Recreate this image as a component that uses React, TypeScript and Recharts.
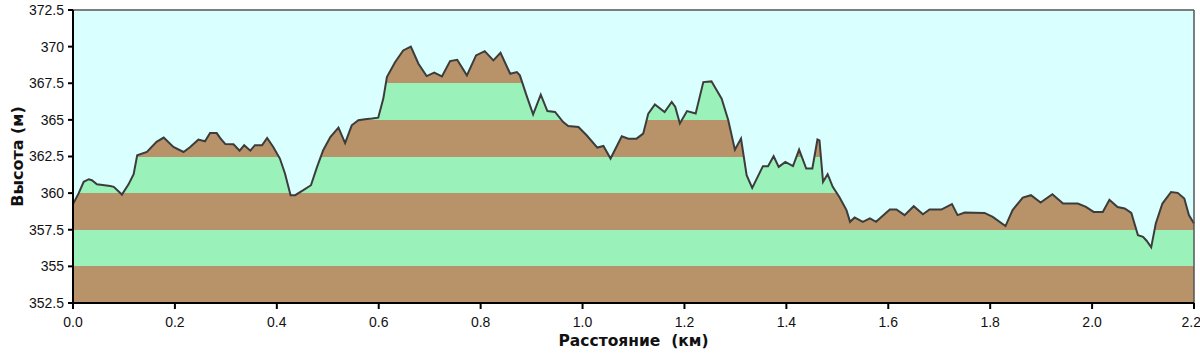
import { Area, AreaChart, CartesianGrid, ReferenceLine, XAxis, YAxis } from 'recharts'

// расстояние, км
const distances = [
    0.0, 0.011, 0.021, 0.031, 0.037, 0.047, 0.073, 0.08, 0.096, 0.109, 0.119, 0.126, 0.145, 0.164, 0.178,
    0.197, 0.217, 0.23, 0.246, 0.259, 0.269, 0.282, 0.289, 0.299, 0.315, 0.327, 0.336, 0.348, 0.357, 0.371,
    0.381, 0.393, 0.406, 0.416, 0.427, 0.436, 0.452, 0.467, 0.479, 0.491, 0.505, 0.521, 0.534, 0.547, 0.56,
    0.573, 0.587, 0.599, 0.609, 0.616, 0.632, 0.648, 0.663, 0.678, 0.694, 0.709, 0.724, 0.74, 0.754, 0.773,
    0.791, 0.808, 0.825, 0.839, 0.858, 0.871, 0.877, 0.89, 0.903, 0.918, 0.931, 0.946, 0.962, 0.972, 0.992,
    1.008, 1.029, 1.041, 1.055, 1.077, 1.09, 1.106, 1.119, 1.129, 1.142, 1.161, 1.175, 1.182, 1.191, 1.205,
    1.222, 1.237, 1.253, 1.273, 1.286, 1.299, 1.311, 1.322, 1.333, 1.354, 1.364, 1.375, 1.385, 1.398, 1.413,
    1.425, 1.439, 1.451, 1.461, 1.465, 1.472, 1.481, 1.491, 1.504, 1.518, 1.525, 1.534, 1.55, 1.564, 1.576,
    1.603, 1.616, 1.632, 1.65, 1.668, 1.681, 1.704, 1.725, 1.736, 1.75, 1.789, 1.805, 1.83, 1.844, 1.864,
    1.88, 1.899, 1.922, 1.943, 1.972, 1.988, 2.003, 2.021, 2.034, 2.05, 2.064, 2.077, 2.09, 2.1, 2.107,
    2.116, 2.125, 2.138, 2.155, 2.168, 2.181, 2.19, 2.2,
]

// высота, м
const elevations = [
    359.25, 359.98, 360.77, 360.95, 360.88, 360.6, 360.48, 360.43, 359.9, 360.6, 361.3, 362.58, 362.81, 363.5, 363.79,
    363.15, 362.81, 363.15, 363.65, 363.54, 364.1, 364.1, 363.75, 363.35, 363.33, 362.9, 363.27, 362.9, 363.27, 363.27,
    363.76, 363.15, 362.36, 361.34, 359.86, 359.86, 360.2, 360.54, 361.79, 362.93, 363.83, 364.47, 363.42, 364.63, 364.97,
    365.04, 365.09, 365.15, 366.45, 367.92, 368.94, 369.74, 370.0, 368.83, 367.99, 368.22, 367.97, 369.01, 369.1, 368.04,
    369.4, 369.69, 369.06, 369.58, 368.15, 368.26, 368.04, 366.67, 365.38, 366.72, 365.6, 365.54, 364.85, 364.58, 364.51,
    363.95, 363.11, 363.22, 362.36, 363.88, 363.72, 363.72, 364.06, 365.43, 366.06, 365.54, 366.22, 365.88, 364.75, 365.6,
    365.43, 367.58, 367.63, 366.45, 364.97, 362.97, 363.72, 361.22, 360.36, 361.84, 361.84, 362.52, 361.79, 362.13, 361.84,
    362.97, 361.68, 361.68, 363.66, 363.6, 360.77, 361.29, 360.43, 359.74, 358.84, 358.04, 358.34, 358.04, 358.27, 358.04,
    358.88, 358.88, 358.5, 359.11, 358.56, 358.88, 358.88, 359.25, 358.5, 358.68, 358.65, 358.38, 357.75, 358.84, 359.7,
    359.86, 359.36, 359.93, 359.29, 359.29, 359.06, 358.72, 358.72, 359.55, 359.05, 358.95, 358.65, 357.13, 357.02, 356.75,
    356.3, 357.93, 359.29, 360.08, 360.02, 359.63, 358.5, 357.93,
]

const xTicks = [0, 0.2, 0.4, 0.6, 0.8, 1.0, 1.2, 1.4, 1.6, 1.8, 2.0, 2.2]
const yTicks = [352.5, 355, 357.5, 360, 362.5, 365, 367.5, 370, 372.5]

const Y_MIN = 352.5
const Y_MAX = 372.5
const BROWN = '#b89268'
const GREEN = '#9af2ba'
const SKY = '#d9ffff'
const FONT = '"Liberation Sans", Arial, sans-serif'
const TITLE_FONT = '"DejaVu Sans", Verdana, sans-serif'

const W = 1200
const H = 356
const MARGIN = { top: 10, right: 6, left: 0, bottom: 13 }
const Y_AXIS_W = 73
const X_AXIS_H = 40
const PLOT_TOP = MARGIN.top
const PLOT_BOTTOM = H - MARGIN.bottom - X_AXIS_H

const data = distances.map((d, i) => ({ km: d, h: elevations[i] }))

// полосы по 2.5 м: снизу коричневая, затем зелёная и т.д.
// стопы градиента идут сверху вниз, поэтому offset растёт
const bandStops = yTicks
    .slice(0, -1)
    .map((lo, i) => ({ lo, hi: yTicks[i + 1], color: i % 2 === 0 ? BROWN : GREEN }))
    .reverse()
    .flatMap((b) => [
        { offset: (Y_MAX - b.hi) / (Y_MAX - Y_MIN), color: b.color },
        { offset: (Y_MAX - b.lo) / (Y_MAX - Y_MIN), color: b.color },
    ])

export default function App() {
    return (
        <div style={{ position: 'absolute', left: 0, top: 0, width: W, height: H, background: '#fff' }}>
            <AreaChart width={W} height={H} data={data} margin={MARGIN}>
                <defs>
                    <linearGradient id="bands" gradientUnits="userSpaceOnUse" x1="0" y1={PLOT_TOP} x2="0" y2={PLOT_BOTTOM}>
                        {bandStops.map((s, i) => (
                            <stop key={i} offset={s.offset} stopColor={s.color} />
                        ))}
                    </linearGradient>
                </defs>
                <CartesianGrid horizontal={false} vertical={false} fill={SKY} />
                <XAxis
                    dataKey="km"
                    type="number"
                    domain={[0, 2.2]}
                    ticks={xTicks}
                    tickFormatter={(v: number) => v.toFixed(1)}
                    height={X_AXIS_H}
                    tickSize={6}
                    tickMargin={8}
                    tick={{ fill: '#111', fontSize: 14, fontFamily: FONT }}
                    axisLine={{ stroke: '#000', strokeWidth: 2 }}
                    tickLine={{ stroke: '#000', strokeWidth: 2 }}
                    label={{
                        content: (props: any) => {
                            const vb = props.viewBox || {}
                            return (
                                <text
                                    x={vb.x + vb.width / 2}
                                    y={vb.y + 43}
                                    textAnchor="middle"
                                    fontFamily={TITLE_FONT}
                                    fontWeight="bold"
                                    fontSize={15.5}
                                    fill="#111"
                                    style={{ whiteSpace: 'pre' }}
                                >
                                    {'Расстояние  (км)'}
                                </text>
                            )
                        },
                    }}
                />
                <YAxis
                    type="number"
                    domain={[Y_MIN, Y_MAX]}
                    ticks={yTicks}
                    width={Y_AXIS_W}
                    tickSize={5}
                    tickMargin={4}
                    tick={{ fill: '#111', fontSize: 14, fontFamily: FONT }}
                    axisLine={{ stroke: '#000', strokeWidth: 2 }}
                    tickLine={{ stroke: '#000', strokeWidth: 2 }}
                    label={{
                        content: (props: any) => {
                            const vb = props.viewBox || {}
                            const cx = 17
                            const cy = vb.y + vb.height / 2
                            return (
                                <text
                                    x={cx}
                                    y={cy}
                                    transform={`rotate(-90, ${cx}, ${cy})`}
                                    textAnchor="middle"
                                    dominantBaseline="central"
                                    fontFamily={TITLE_FONT}
                                    fontWeight="bold"
                                    fontSize={16}
                                    fill="#111"
                                >
                                    Высота (м)
                                </text>
                            )
                        },
                    }}
                />
                <Area
                    type="linear"
                    dataKey="h"
                    stroke="#3c3c3c"
                    strokeWidth={2}
                    fill="url(#bands)"
                    fillOpacity={1}
                    dot={false}
                    activeDot={false}
                    isAnimationActive={false}
                />
                <ReferenceLine y={Y_MAX} stroke="#555" strokeWidth={1.5} />
                <ReferenceLine x={2.2} stroke="#555" strokeWidth={1.5} />
            </AreaChart>
        </div>
    )
}
